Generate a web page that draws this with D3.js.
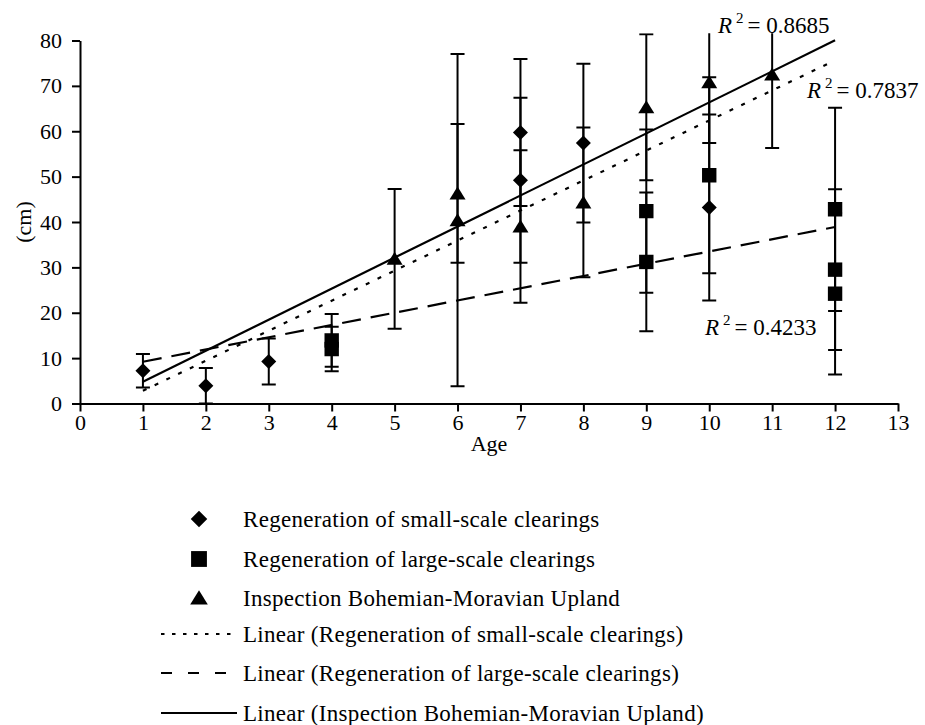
<!DOCTYPE html>
<html>
<head>
<meta charset="utf-8">
<script src="https://cdn.jsdelivr.net/npm/d3@7"></script>
<style>
  body { margin: 0; background: #fff; }
  text { font-family: "Liberation Serif", "Times New Roman", serif; fill: #000; }
</style>
</head>
<body>
<svg id="chart" width="925" height="725"></svg>
<script>
/* growth of regeneration by age, three series with error bars + linear trends */

// values
const smallAge = [1, 2, 3, 7, 7, 8, 10]
const smallVal = [7.2, 3.9, 9.25, 59.7, 49.2, 57.4, 43.2]
const smallErr = [3.7, 3.9, 5.05, 16.2, 18.2, 17.5, 20.5]

const largeAge = [4, 4, 9, 9, 10, 12, 12, 12]
const largeVal = [13.9, 12.0, 42.4, 31.2, 50.3, 42.8, 29.5, 24.2]
const largeErr = [5.8, 4.9, 18.0, 15.3, 21.6, 22.4, 17.7, 17.8]

const uplandAge = [5, 6, 6, 7, 8, 9, 10, 11]
const uplandVal = [31.9, 46.3, 40.4, 39.0, 44.3, 65.3, 70.8, 72.5]
const uplandErr = [15.4, 15.3, 36.6, 16.8, 16.5, 16.1, 13.4, 16.2]

// linear trends as drawn: slope, intercept, R2 printed
const trendSlope = [6.62, 2.70, 6.84]
const trendIntercept = [-3.82, 6.50, -2.04]
const trendR2 = ["0.7837", "0.4233", "0.8685"]
const trendSpan = [1, 12]

const xTicks = d3.range(0, 14)
const yTicks = d3.range(0, 90, 10)

const seriesNames = [
  "Regeneration of small-scale clearings",
  "Regeneration of large-scale clearings",
  "Inspection Bohemian-Moravian Upland"
]

// build series from the arrays
const series = [
  { name: seriesNames[0], age: smallAge, val: smallVal, err: smallErr, shape: "diamond", dash: "4,9" },
  { name: seriesNames[1], age: largeAge, val: largeVal, err: largeErr, shape: "square", dash: "19,10" },
  { name: seriesNames[2], age: uplandAge, val: uplandVal, err: uplandErr, shape: "triangle", dash: null }
].map((s, i) => ({
  ...s,
  slope: trendSlope[i],
  icpt: trendIntercept[i],
  r2: trendR2[i],
  points: s.age.map((a, j) => ({ age: a, val: s.val[j], err: s.err[j] }))
}))

const svg = d3.select('#chart')

const x = d3.scaleLinear().domain([0, 13]).range([80, 898])
const y = d3.scaleLinear().domain([0, 80]).range([403.5, 40.5])

// marker outlines, centred on the point
function marker(shape, k) {
  if (shape === 'diamond') return `M0,${-7.5 * k}L${7.5 * k},0L0,${7.5 * k}L${-7.5 * k},0Z`
  if (shape === 'square') return `M${-7.2 * k},${-7.2 * k}h${14.4 * k}v${14.4 * k}h${-14.4 * k}Z`
  return `M0,${-7 * k}L${8 * k},${6 * k}L${-8 * k},${6 * k}Z`
}

// error bars get cut a bit above the top of the axis
svg.append('clipPath').attr('id', 'clip')
  .append('rect')
  .attr('x', 0).attr('y', y(81.6))
  .attr('width', 925).attr('height', 725)

// axes
const xAxis = svg.append('g')
  .attr('transform', `translate(0,${y(0)})`)
  .call(d3.axisBottom(x).tickValues(xTicks).tickSize(8).tickSizeOuter(0).tickPadding(3))
const yAxis = svg.append('g')
  .attr('transform', `translate(${x(0)},0)`)
  .call(d3.axisLeft(y).tickValues(yTicks).tickSize(8).tickSizeOuter(0).tickPadding(10))

for (const ax of [xAxis, yAxis]) {
  ax.select('.domain').attr('stroke', '#000').attr('stroke-width', 2)
  ax.selectAll('.tick line').attr('stroke', '#000').attr('stroke-width', 2)
  ax.selectAll('.tick text')
    .attr('font-family', '"Liberation Serif", serif')
    .attr('font-size', 22)
    .attr('fill', '#000')
}

svg.append('text')
  .attr('x', 489).attr('y', 451)
  .attr('text-anchor', 'middle')
  .attr('font-size', 22)
  .text('Age')

svg.append('text')
  .attr('transform', 'translate(31,222) rotate(-90)')
  .attr('text-anchor', 'middle')
  .attr('font-size', 22)
  .text('(cm)')

// error bars
const plot = svg.append('g').attr('clip-path', 'url(#clip)')
const allPoints = series.flatMap(s => s.points)

plot.append('g')
  .attr('stroke', '#000')
  .attr('stroke-width', 2)
  .selectAll('path')
  .data(allPoints)
  .join('path')
  .attr('fill', 'none')
  .attr('d', d => {
    const cx = x(d.age), top = y(d.val + d.err), bot = y(Math.max(0, d.val - d.err))
    return `M${cx},${top}V${bot}M${cx - 7},${top}h14M${cx - 7},${bot}h14`
  })

// markers
series.forEach(s => {
  plot.append('g')
    .selectAll('path')
    .data(s.points)
    .join('path')
    .attr('transform', d => `translate(${x(d.age)},${y(d.val)})`)
    .attr('d', marker(s.shape, 1))
    .attr('fill', '#000')
})

// trend lines
svg.append('g')
  .selectAll('line')
  .data(series)
  .join('line')
  .attr('x1', x(trendSpan[0]))
  .attr('y1', s => y(s.slope * trendSpan[0] + s.icpt))
  .attr('x2', x(trendSpan[1]))
  .attr('y2', s => y(s.slope * trendSpan[1] + s.icpt))
  .attr('stroke', '#000')
  .attr('stroke-width', 2.2)
  .attr('stroke-dasharray', s => s.dash)

// R2 labels (placed by hand, like the original)
const r2Pos = [[807, 98], [705, 335], [718, 33]]
series.forEach((s, i) => {
  const t = svg.append('text')
    .attr('x', r2Pos[i][0]).attr('y', r2Pos[i][1])
    .attr('font-size', 23)
  t.append('tspan').attr('font-style', 'italic').text('R')
  t.append('tspan').attr('dx', 4).attr('dy', -10).attr('font-size', 15).text('2')
  t.append('tspan').attr('dx', 4).attr('dy', 10).text('= ' + s.r2)
})

// legend
const legend = svg.append('g')
const rowY = [519, 559, 598, 634, 673, 713]

series.forEach((s, i) => {
  legend.append('path')
    .attr('transform', `translate(199,${rowY[i]})`)
    .attr('d', marker(s.shape, 1.1))
    .attr('fill', '#000')
  legend.append('text')
    .attr('x', 243).attr('y', rowY[i] + 7.5)
    .attr('font-size', 23)
    .attr('letter-spacing', 0.3)
    .text(s.name)
})

const legendDash = ["3.5,7.5", "11,16", null]
series.forEach((s, i) => {
  const yy = rowY[i + 3]
  legend.append('line')
    .attr('x1', 161).attr('x2', 237)
    .attr('y1', yy).attr('y2', yy)
    .attr('stroke', '#000')
    .attr('stroke-width', 2)
    .attr('stroke-dasharray', legendDash[i])
  legend.append('text')
    .attr('x', 243).attr('y', yy + 7.5)
    .attr('font-size', 23)
    .attr('letter-spacing', 0.3)
    .text(`Linear (${s.name})`)
})
</script>
</body>
</html>
